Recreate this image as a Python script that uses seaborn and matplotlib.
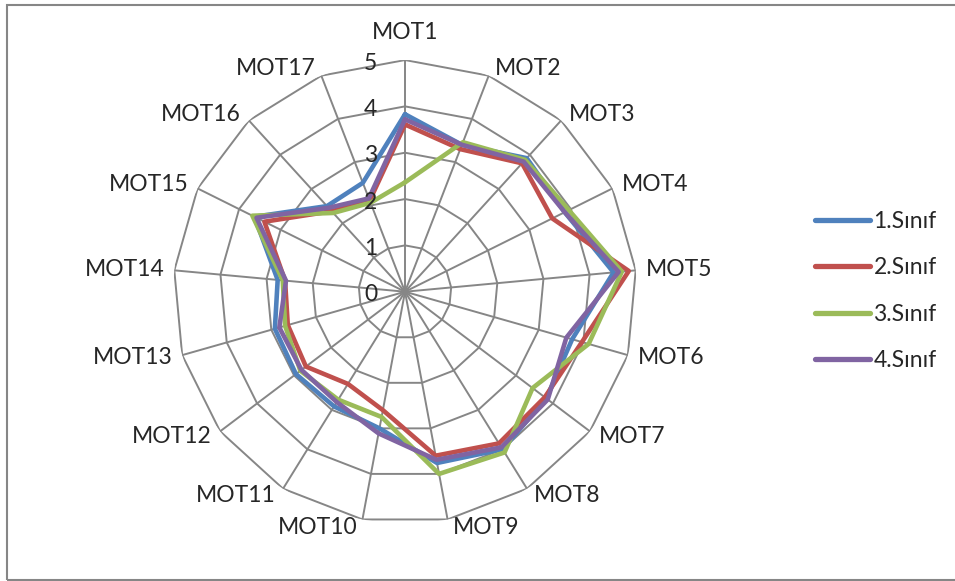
import numpy as np
import pandas as pd
import seaborn as sns
import matplotlib.pyplot as plt
from matplotlib.patches import Rectangle

# veriler (grafikten okunan yaklasik degerler)
kategoriler = ["MOT1", "MOT2", "MOT3", "MOT4", "MOT5", "MOT6", "MOT7", "MOT8", "MOT9",
               "MOT10", "MOT11", "MOT12", "MOT13", "MOT14", "MOT15", "MOT16", "MOT17"]
sinif1 = [3.83, 3.40, 3.90, 3.85, 4.52, 3.75, 3.82, 4.00, 3.76, 3.00, 2.91, 2.95, 2.92, 2.76, 3.63, 2.50, 2.52]
sinif2 = [3.61, 3.30, 3.75, 3.55, 4.85, 3.97, 3.78, 3.85, 3.60, 2.60, 2.34, 2.68, 2.63, 2.60, 3.39, 2.35, 2.11]
sinif3 = [2.36, 3.46, 3.85, 3.95, 4.70, 4.12, 3.45, 4.08, 4.00, 2.75, 2.74, 2.83, 2.69, 2.65, 3.68, 2.30, 2.06]
sinif4 = [3.72, 3.40, 3.80, 3.85, 4.63, 3.62, 3.86, 3.95, 3.69, 3.11, 2.80, 2.80, 2.82, 2.58, 3.58, 2.45, 2.16]
seriler = ["1.Sınıf", "2.Sınıf", "3.Sınıf", "4.Sınıf"]
renkler = ["#4F81BD", "#C0504D", "#9BBB59", "#8064A2"]
halkalar = [0, 1, 2, 3, 4, 5]

sns.set_theme(style="white")
plt.rcParams["font.family"] = ["Lato", "DejaVu Sans"]
yazi = 16.5
gri = "#868686"

n = len(kategoriler)
aci = np.linspace(0, 2 * np.pi, n, endpoint=False)
aci_kapali = np.append(aci, 2 * np.pi)

rows = []
for ad, vals in zip(seriler, [sinif1, sinif2, sinif3, sinif4]):
    for a, v in zip(aci_kapali, vals + [vals[0]]):
        rows.append((a, v, ad))
df = pd.DataFrame(rows, columns=["aci", "deger", "seri"])

fig = plt.figure(figsize=(9.55, 5.81), dpi=100)
ax = fig.add_axes([0.1815, 0.0991, 0.4852, 0.7976], projection="polar")
ax.set_theta_offset(np.pi / 2)
ax.set_theta_direction(-1)

# cokgen izgara
for r in halkalar[1:]:
    ax.plot(aci_kapali, [r] * (n + 1), color=gri, lw=1.4, zorder=1)
for a in aci:
    ax.plot([a, a], [0, 5], color=gri, lw=1.4, zorder=1)

sns.lineplot(data=df, x="aci", y="deger", hue="seri", palette=renkler, sort=False,
             estimator=None, lw=3.3, ax=ax, zorder=3)

ax.set_ylim(0, 5)
ax.grid(False)
ax.spines["polar"].set_visible(False)
ax.set_xticks([])
ax.set_yticks([])
ax.set_xlabel("")
ax.set_ylabel("")
ax.patch.set_alpha(0)

for r in halkalar:
    ax.annotate(str(r), xy=(0, r), xytext=(-28, -3), textcoords="offset pixels",
                ha="right", va="center", fontsize=yazi)

for a, k in zip(aci, kategoriler):
    s, c = np.sin(a), np.cos(a)
    if abs(s) < 0.05:
        ax.annotate(k, xy=(a, 5), xytext=(0, 28), textcoords="offset pixels",
                    ha="center", va="center", fontsize=yazi)
    else:
        ax.annotate(k, xy=(a, 5), xytext=(np.sign(s) * (4 + 6 * abs(s)), 8 * c),
                    textcoords="offset pixels", ha="left" if s > 0 else "right",
                    va="center", fontsize=yazi)

sns.move_legend(ax, "center left", bbox_to_anchor=(815 / 955, 1 - 291 / 581),
                bbox_transform=fig.transFigure, frameon=False, title=None,
                fontsize=yazi, handlelength=2.4, handletextpad=0.15, labelspacing=1.1,
                borderpad=0, borderaxespad=0)
for h in ax.get_legend().legend_handles:
    h.set_linewidth(3.8)
    h.set_solid_capstyle("round")

# cerceve (sag kenar gorunmuyor)
fig.patches.append(Rectangle((6.5 / 955, 1 - 579.5 / 581), 960 / 955, 575 / 581,
                             transform=fig.transFigure, fill=False, edgecolor=gri, lw=1.5))

fig.savefig("out.png", dpi=100)
